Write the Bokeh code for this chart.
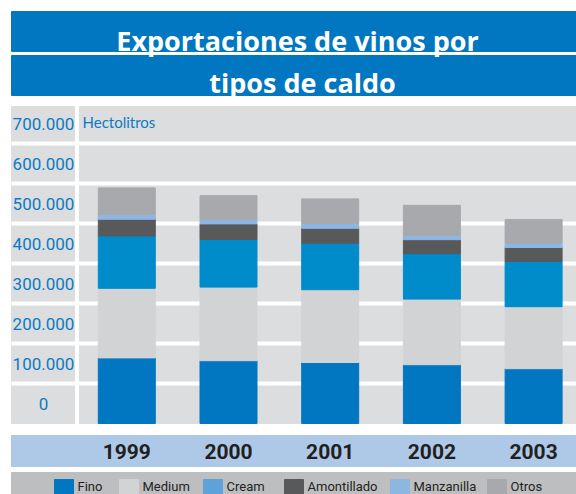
from bokeh.plotting import figure
from bokeh.models import Range1d, ColumnDataSource
from bokeh.core.properties import value
from bokeh.embed import file_html
from bokeh.resources import INLINE

# ---------------- data ----------------
years = [1999, 2000, 2001, 2002, 2003]
year_labels = ["1999", "2000", "2001", "2002", "2003"]
series = ["Fino", "Medium", "Cream", "Amontillado", "Manzanilla", "Otros"]
fino = [164000, 157000, 152500, 147000, 137000]
medium = [174000, 184000, 182000, 164000, 155000]
cream = [131000, 119000, 116000, 113500, 113000]
amontillado = [41500, 39000, 37500, 35000, 35000]
manzanilla = [12500, 11500, 12000, 11000, 11000]
otros = [66000, 59000, 61500, 75000, 59000]
y_ticks = [0, 100000, 200000, 300000, 400000, 500000, 600000, 700000]
y_tick_labels = ["0", "100.000", "200.000", "300.000", "400.000", "500.000", "600.000", "700.000"]
title_lines = ["Exportaciones de vinos por", "tipos de caldo"]
unit_label = "Hectolitros"

# ---------------- styles / layout ----------------
bar_colors = ["#0077C0", "#D1D3D4", "#008BCB", "#58595B", "#8EB6E3", "#A7A9AC"]
legend_colors = ["#0077C0", "#D1D3D4", "#5FA1D9", "#58595B", "#8EB6E3", "#A7A9AC"]
BLUE = "#0077C0"
BG_GRAY = "#DCDDDE"
NARROW = "Roboto, DejaVu Sans Condensed, sans-serif"
HUMAN = "Lato"
TITLE_FONT = "Open Sans"

W, H = 576, 494
PX_LEFT, PX_TOP = 0, 0
PX_RIGHT, PX_BOTTOM = PX_LEFT + W, PX_TOP + H
BAR0_PX, BAR_STEP_PX = 126.3, 101.7
BASE_PX, PX_PER_UNIT = 423.0, 40.0 / 100000
BAR_WIDTH = 57 / BAR_STEP_PX

x0 = years[0] + (PX_LEFT - BAR0_PX) / BAR_STEP_PX
x1 = years[0] + (PX_RIGHT - BAR0_PX) / BAR_STEP_PX
y1 = (BASE_PX - PX_TOP) / PX_PER_UNIT
y0 = -(PX_BOTTOM - BASE_PX) / PX_PER_UNIT

p = figure(width=W, height=H, x_range=Range1d(x0, x1), y_range=Range1d(y0, y1),
           output_backend="svg", toolbar_location=None,
           x_axis_location=None, y_axis_location=None,
           min_border=0, min_border_left=0, min_border_right=0,
           min_border_top=0, min_border_bottom=0)
p.grid.visible = False
p.outline_line_color = None
p.background_fill_color = "white"
p.border_fill_color = "white"
p.extra_x_ranges = {"px": Range1d(PX_LEFT, PX_RIGHT)}
p.extra_y_ranges = {"py": Range1d(PX_BOTTOM, PX_TOP)}

PX = dict(x_range_name="px", y_range_name="py")

# title bars
p.quad(left=[11, 11], right=[576, 576], top=[11, 55], bottom=[51, 95],
       color=BLUE, **PX)
p.text(x=[297, 302], y=[40, 81.5], text=title_lines, text_align="center",
       text_baseline="alphabetic", text_color="white",
       text_font=value(TITLE_FONT), text_font_style="bold", text_font_size="27px", **PX)

# plot panels
p.quad(left=[11, 79], right=[74, 576], top=[106, 106], bottom=[423, 423],
       color=BG_GRAY, **PX)

# grid lines (white separators between value bands)
grid_vals = y_ticks[1:]
p.segment(x0=[11] * len(grid_vals), x1=[576] * len(grid_vals), y0=grid_vals, y1=grid_vals,
          line_color="white", line_width=4, x_range_name="px")

# y labels in the middle of each 100.000 band
step = y_ticks[1] - y_ticks[0]
lab_src = ColumnDataSource(dict(x=[43] * len(y_ticks),
                                y=[t + step / 2 for t in y_ticks],
                                text=y_tick_labels))
p.text(x="x", y="y", text="text", source=lab_src, x_range_name="px",
       text_align="center", text_baseline="middle", text_color="#0A7BC3",
       text_font=value(NARROW), text_font_size="17px")

p.text(x=[82], y=[121], text=[unit_label], text_align="left", text_baseline="middle",
       text_color="#0A7BC3", text_font=value(HUMAN), text_font_size="15px", **PX)

# stacked bars
src = ColumnDataSource(dict(year=years, Fino=fino, Medium=medium, Cream=cream,
                            Amontillado=amontillado, Manzanilla=manzanilla, Otros=otros))
p.vbar_stack(series, x="year", width=BAR_WIDTH, color=bar_colors, source=src)

# category band
p.quad(left=[11], right=[576], top=[435], bottom=[466], color="#AEC9E8", **PX)
p.text(x=years, y=[451] * len(years), text=year_labels, y_range_name="py",
       text_align="center", text_baseline="middle", text_color="#231F20",
       text_font=value(NARROW), text_font_style="bold", text_font_size="21px")

# legend band
LEGEND_X = [54, 119, 203, 284, 390, 487]
SW = 19
p.quad(left=[11], right=[576], top=[472], bottom=[PX_BOTTOM], color="#BDBEC0", **PX)
p.quad(left=LEGEND_X, right=[x + SW for x in LEGEND_X], top=[479] * 6,
       bottom=[PX_BOTTOM] * 6, color=legend_colors, **PX)
p.text(x=[x + SW + 4 for x in LEGEND_X], y=[486] * 6, text=series,
       text_align="left", text_baseline="alphabetic", text_color="#231F20",
       text_font=value(NARROW), text_font_size="13px", **PX)

open("out.html", "w").write(file_html(p, INLINE))
